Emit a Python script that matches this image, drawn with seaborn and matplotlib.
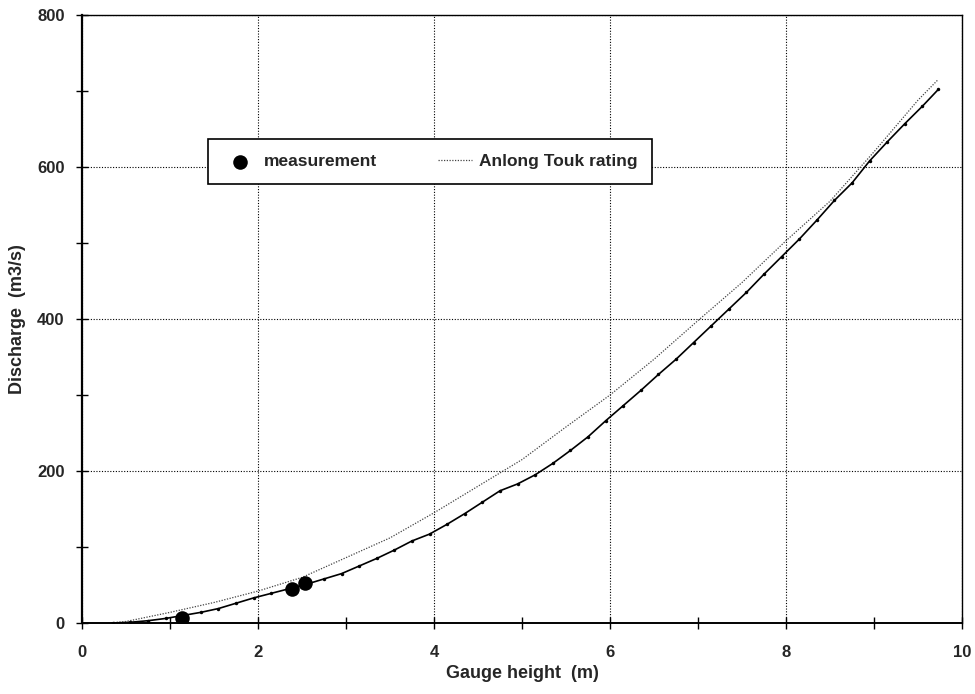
import matplotlib
matplotlib.use("Agg")
import matplotlib.pyplot as plt
from matplotlib.ticker import MultipleLocator
import seaborn as sns
import pandas as pd

# Gauged discharge measurements
meas_height = [1.14, 2.39, 2.53]
meas_discharge = [6, 45, 52]

# Fitted rating table (gauge height in m, discharge in m3/s)
fit_height = [0.35, 0.55, 0.75, 0.95, 1.15, 1.35, 1.55, 1.75, 1.95, 2.15, 2.35,
              2.55, 2.75, 2.95, 3.15, 3.35, 3.55, 3.75, 3.95, 4.15, 4.35, 4.55,
              4.75, 4.95, 5.15, 5.35, 5.55, 5.75, 5.95, 6.15, 6.35, 6.55, 6.75,
              6.95, 7.15, 7.35, 7.55, 7.75, 7.95, 8.15, 8.35, 8.55, 8.75, 8.95,
              9.15, 9.35, 9.55, 9.73]
fit_discharge = [0, 1, 3, 6, 10, 14, 19, 26, 33, 39, 45,
                 51, 58, 65, 75, 85, 96, 108, 117, 130, 144, 159,
                 174, 183, 195, 210, 227, 245, 266, 286, 306, 327, 347,
                 369, 391, 413, 435, 459, 482, 505, 530, 556, 579, 608,
                 633, 657, 680, 702]

# Anlong Touk rating curve
at_height = [0.3, 0.5, 1.0, 1.5, 2.0, 2.5, 3.0, 3.5, 4.0, 4.5, 5.0, 5.5,
             6.0, 6.5, 7.0, 7.5, 8.0, 8.5, 9.0, 9.5, 9.72]
at_discharge = [0, 2, 14, 27, 42, 60, 86, 112, 145, 180, 215, 258,
                300, 347, 398, 448, 503, 555, 620, 688, 714]

sns.set_style("white")
plt.rcParams["font.family"] = ["Liberation Sans", "DejaVu Sans"]
plt.rcParams["font.weight"] = "bold"

fig = plt.figure(figsize=(9.75, 6.94), dpi=100)
ax = fig.add_axes([0.0841, 0.1023, 0.9026, 0.8761])

df_fit = pd.DataFrame({"h": fit_height, "q": fit_discharge})
df_at = pd.DataFrame({"h": at_height, "q": at_discharge})
df_meas = pd.DataFrame({"h": meas_height, "q": meas_discharge})

sns.lineplot(data=df_fit, x="h", y="q", ax=ax, color="black", lw=1.2,
             marker="o", markersize=2.5, markeredgewidth=0, sort=False,
             estimator=None)
sns.lineplot(data=df_at, x="h", y="q", ax=ax, color="#444444", lw=0.9,
             linestyle=(0, (1, 1.2)), sort=False, estimator=None,
             label="Anlong Touk rating")
sns.scatterplot(data=df_meas, x="h", y="q", ax=ax, color="black", s=110,
                edgecolor="black", linewidth=0, label="measurement", zorder=5)

ax.set_xlim(0, 10)
ax.set_ylim(0, 800)
ax.xaxis.set_major_locator(MultipleLocator(2))
ax.xaxis.set_minor_locator(MultipleLocator(1))
ax.yaxis.set_major_locator(MultipleLocator(200))
ax.yaxis.set_minor_locator(MultipleLocator(100))
ax.tick_params(which="both", bottom=True, left=True, top=False, right=False,
               direction="inout", color="black", width=1.0)
ax.tick_params(which="major", length=9, labelsize=12, pad=11)
ax.tick_params(which="minor", length=8)
for lab in ax.get_xticklabels() + ax.get_yticklabels():
    lab.set_fontweight("bold")
ax.tick_params(axis="y", which="major", pad=8)

ax.grid(True, which="major", color="black", linestyle=(0, (1, 1.5)), lw=0.8)
for s in ax.spines.values():
    s.set_color("black")
    s.set_linewidth(1.0)
ax.spines["left"].set_linewidth(1.6)
ax.spines["bottom"].set_linewidth(1.4)

ax.set_xlabel("Gauge height  (m)", fontsize=13, fontweight="bold", labelpad=4)
ax.set_ylabel("Discharge  (m3/s)", fontsize=13, fontweight="bold", labelpad=8)

handles, labels = ax.get_legend_handles_labels()
order = [labels.index("measurement"), labels.index("Anlong Touk rating")]
leg = ax.legend([handles[i] for i in order], [labels[i] for i in order],
                loc="upper left", bbox_to_anchor=(0.1335, 0.81), ncol=2,
                frameon=True, fancybox=False, edgecolor="black",
                columnspacing=3.5, handlelength=2.0, handletextpad=0.35,
                borderpad=0.85, prop={"weight": "bold", "size": 12.5})
leg.get_frame().set_linewidth(1.2)
leg.get_frame().set_alpha(1)

fig.savefig("out.png", dpi=100, facecolor="white")
